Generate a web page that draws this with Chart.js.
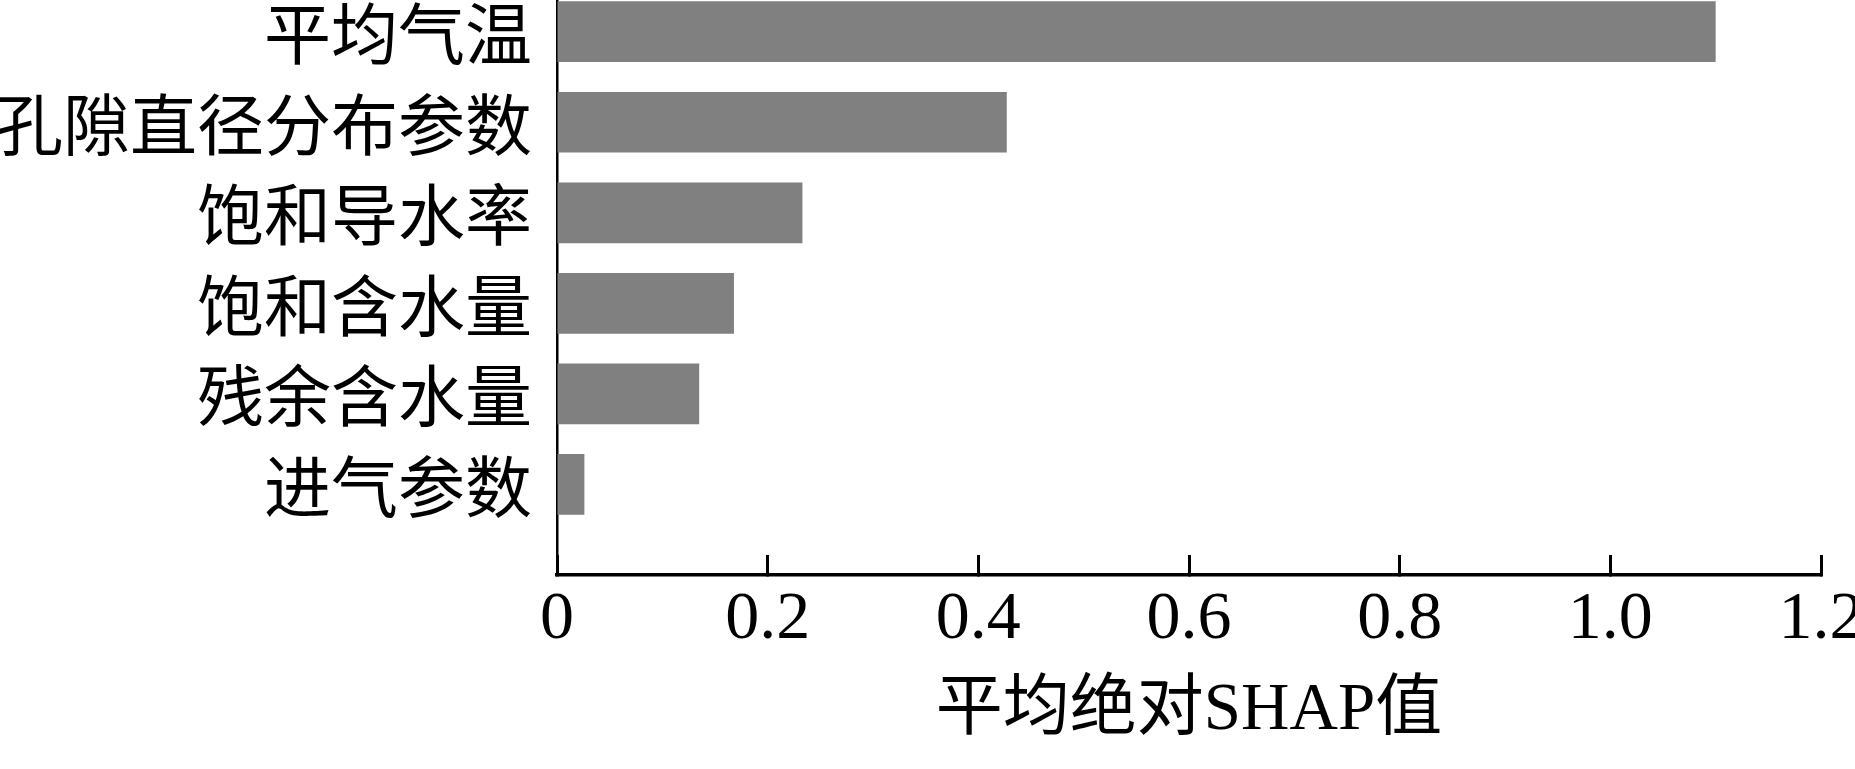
<!DOCTYPE html>
<html>
<head>
<meta charset="utf-8">
<script src="https://cdn.jsdelivr.net/npm/chart.js@4.4.1/dist/chart.umd.min.js"></script>
<style>
    body { margin: 0; background: #fff; }
</style>
</head>
<body>
<canvas id="shapChart" width="1855" height="769"></canvas>
<script>
const features = ['平均气温', '孔隙直径分布参数', '饱和导水率', '饱和含水量', '残余含水量', '进气参数'];
const shapValues = [1.10, 0.427, 0.233, 0.168, 0.135, 0.026];
const xTicks = [0, 0.2, 0.4, 0.6, 0.8, 1.0, 1.2];
const xTitle = '平均绝对SHAP值';

const fontFamily = "'Liberation Serif', 'Noto Sans CJK SC', serif";

const ctx = document.getElementById('shapChart').getContext('2d');
const shapChart = new Chart(ctx, {
    type: 'bar',
    data: {
        datasets: [{
            data: features.map((f, i) => ({ x: shapValues[i], y: i })),
            backgroundColor: '#808080',
            barPercentage: 0.67,
            categoryPercentage: 1.0
        }]
    },
    options: {
        indexAxis: 'y',
        responsive: false,
        devicePixelRatio: 1,
        animation: false,
        layout: { padding: { top: 0, right: 34, bottom: 0, left: 0 } },
        plugins: {
            legend: { display: false },
            tooltip: { enabled: false }
        },
        scales: {
            x: {
                type: 'linear',
                min: 0,
                max: 1.2,
                afterBuildTicks: (scale) => { scale.ticks = xTicks.map(v => ({ value: v })); },
                ticks: {
                    callback: (v) => v === 0 ? '0' : v.toFixed(1),
                    font: { family: fontFamily, size: 68 },
                    color: '#000',
                    padding: 24,
                    maxRotation: 0,
                    autoSkip: false
                },
                grid: { drawOnChartArea: false, drawTicks: true, tickLength: -20, tickWidth: 3, tickColor: '#000' },
                border: { display: true, color: '#000', width: 3.5 },
                title: {
                    display: true,
                    text: xTitle,
                    font: { family: fontFamily, size: 67 },
                    color: '#000',
                    padding: { top: 0, bottom: 17 }
                },
                afterFit: (scale) => {
                    scale.height = 194;
                    scale.paddingLeft = 0;
                    scale.paddingRight = 0;
                }
            },
            y: {
                type: 'linear',
                reverse: true,
                offset: false,
                min: -0.35,
                max: 6,
                afterBuildTicks: (scale) => { scale.ticks = features.map((f, i) => ({ value: i })); },
                ticks: {
                    callback: (v) => features[v] ?? '',
                    font: { family: fontFamily, size: 67 },
                    color: '#000',
                    padding: 17,
                    labelOffset: 10,
                    autoSkip: false
                },
                grid: { display: false },
                border: { display: true, color: '#000', width: 2.5 },
                afterFit: (scale) => {
                    scale.width = 557;
                    scale.paddingTop = 0;
                    scale.paddingBottom = 0;
                }
            }
        }
    }
});
</script>
</body>
</html>
